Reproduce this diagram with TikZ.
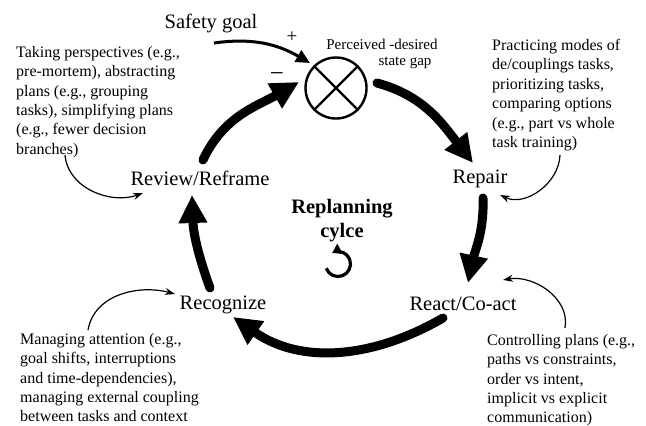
\documentclass[tikz,border=0pt]{standalone}
\usepackage{fontspec}
\setmainfont{Liberation Serif}
\usetikzlibrary{arrows.meta}
\begin{document}
\begin{tikzpicture}[x=1pt,y=-1pt,
  lbl/.style={inner sep=0pt, anchor=base, font=\fontsize{20.5}{22}\selectfont},
  note/.style={inner sep=0pt, align=left, anchor=north west, font=\fontsize{16}{19.4}\selectfont},
  flow/.style={line width=9pt, line cap=round, -{Triangle[length=28pt,width=27pt]}},
  hint/.style={line width=1.2pt, -{Stealth[length=10pt,width=7pt]}}]
\useasboundingbox (0,0) rectangle (646,426);

% comparator
\node[draw, circle, line width=2.4pt, minimum size=61pt, inner sep=0pt] (gap) at (336,88) {};
\draw[line width=2.4pt] (gap.45) -- (gap.225) (gap.135) -- (gap.-45);
\node[inner sep=0pt, anchor=base, font=\fontsize{15}{16}\selectfont] (gaplbl) at (382,49) {Perceived -desired};
\node[inner sep=0pt, anchor=base, font=\fontsize{15}{16}\selectfont] (gaplbl2) at (405,65) {state gap};

% stages of the cycle
\node[lbl] (repair) at (480,183) {Repair};
\node[lbl] (react) at (463,310) {React/Co-act};
\node[lbl] (recog) at (223,309) {Recognize};
\node[lbl] (review) at (200,185) {Review/Reframe};
\node[lbl] (goal) at (211,28) {Safety goal};
\node[inner sep=0pt, font=\fontsize{19}{20}\selectfont] (plus) at (292,37) {+};
\node[inner sep=0pt, font=\fontsize{25}{20}\selectfont] (minus) at (277,77) {−};

\node[inner sep=0pt, anchor=base, font=\bfseries\fontsize{20.5}{24}\selectfont] (title) at (342,213) {Replanning};
\node[inner sep=0pt, anchor=base, font=\bfseries\fontsize{20.5}{24}\selectfont] (title2) at (342,237) {cylce};

% main loop
\coordinate (a1) at (377,83);  \coordinate (b1) at (473,163);
\coordinate (a2) at (483,198); \coordinate (b2) at (468,283);
\coordinate (a3) at (443,318); \coordinate (b3) at (233,317);
\coordinate (a4) at (210,288); \coordinate (b4) at (192,195);
\coordinate (a5) at (203,160); \coordinate (b5) at (299,82);
\draw[flow] (a1) to[out=-15,in=128] (b1);
\draw[flow] (a2) to[out=-88,in=78] (b2);
\draw[flow] (a3) to[out=-150,in=-35] (b3);
\draw[flow] (a4) to[out=110,in=-88] (b4);
\draw[flow] (a5) to[out=65,in=-150] (b5);

% input from the goal
\coordinate (g0) at (214,43); \coordinate (g1) at (310,63);
\draw[line width=3pt, -{Triangle[length=14pt,width=13pt]}] (g0) to[out=8,in=150] (g1);

% small cycle symbol
\coordinate (cyc) at (338,264);
\draw[line width=3.2pt, -{Triangle[length=9pt,width=11pt]}] ([shift={(160:12.5)}]cyc) arc[start angle=160, end angle=-118, radius=12.5];

% annotations
\node[note] (n1) at (16,46) {Taking perspectives (e.g.,\\pre-mortem), abstracting\\plans (e.g., grouping\\tasks), simplifying plans\\(e.g., fewer decision\\branches)};
\node[note] (n2) at (492,39) {Practicing modes of\\de/couplings tasks,\\prioritizing tasks,\\comparing options\\(e.g., part vs whole\\task training)};
\node[note] (n3) at (487,334) {Controlling plans (e.g.,\\paths vs constraints,\\order vs intent,\\implicit vs explicit\\communication)};
\node[note] (n4) at (20,333) {Managing attention (e.g.,\\goal shifts, interruptions\\and time-dependencies),\\managing external coupling\\between tasks and context};

\coordinate (h1) at (65,155);  \coordinate (t1) at (143,193);
\coordinate (h2) at (560,155); \coordinate (t2) at (500,195);
\coordinate (h3) at (565,328); \coordinate (t3) at (503,280);
\coordinate (h4) at (88,330);  \coordinate (t4) at (175,294);
\draw[hint] (h1) to[out=-85,in=200] (t1);
\draw[hint] (h2) to[out=-92,in=-25] (t2);
\draw[hint] (h3) to[out=80,in=10] (t3);
\draw[hint] (h4) to[out=80,in=165] (t4);
\end{tikzpicture}
\end{document}
